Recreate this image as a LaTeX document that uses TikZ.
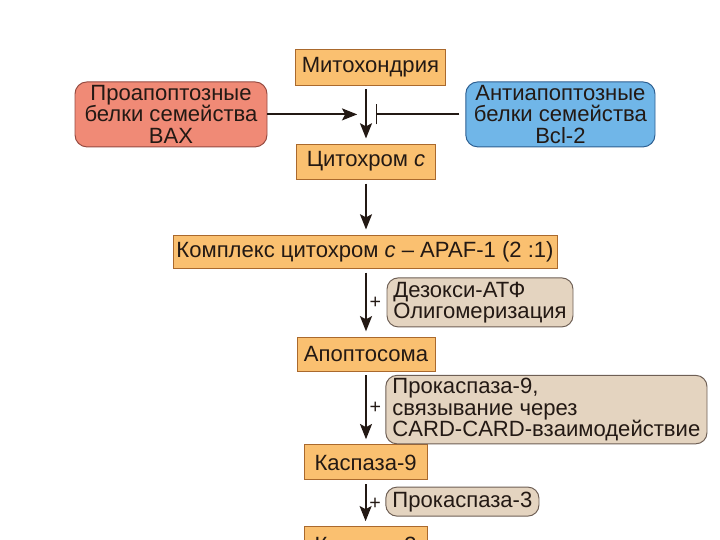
\documentclass[tikz,border=0pt]{standalone}
\usepackage{fontspec}
\setmainfont{Liberation Sans}
\usepackage{tikz}
\usetikzlibrary{positioning,arrows.meta}
\definecolor{orgfill}{RGB}{250,192,112}
\definecolor{orgline}{RGB}{170,105,45}
\definecolor{notefill}{RGB}{228,212,192}
\definecolor{noteline}{RGB}{110,95,85}
\definecolor{profill}{RGB}{240,138,118}
\definecolor{proline}{RGB}{150,75,65}
\definecolor{antifill}{RGB}{112,182,232}
\definecolor{antiline}{RGB}{45,95,145}
\definecolor{txtcol}{RGB}{35,25,20}

\begin{document}
\begin{tikzpicture}[
  box/.style={rectangle, draw=#1line, fill=#1fill, line width=0.7pt,
              font=\fontsize{15.7}{15.3}\selectfont, text=txtcol, inner sep=2pt,
              align=center},
  side/.style={box=#1, rounded corners=0.3cm, minimum height=1.625cm},
  note/.style={box=note, rounded corners=0.28cm, align=left},
  ar/.style={-{Stealth[length=0.38cm, width=0.3cm, inset=0.08cm]}, line width=1.3pt,
             draw=txtcol, shorten <=0.1cm, shorten >=0.13cm},
  pl/.style={font=\fontsize{14}{14}\selectfont, text=txtcol, inner sep=1pt, right=1pt}
]
\useasboundingbox (0,0) rectangle (18,-13.5);
\clip (0,0) rectangle (18,-13.5);

% main chain
\node[box=org, minimum width=3.73cm, minimum height=0.9cm]   (mit) at (9.26,-1.675) {Митохондрия};
\node[box=org, minimum width=3.48cm, minimum height=0.875cm] (cyt) at (9.15,-4.04)  {Цитохром \textit{c}};
\node[box=org, minimum width=9.6cm,  minimum height=0.825cm, inner xsep=1pt] (cpx) at (9.125,-6.29) {Комплекс цитохром \textit{c} – APAF-1 (2 :1)};
\node[box=org, minimum width=3.45cm, minimum height=0.85cm]  (apo) at (9.15,-8.85)  {Апоптосома};
\node[box=org, minimum width=3.08cm, minimum height=0.875cm] (c9)  at (9.14,-11.56) {Каспаза-9};
\node[box=org, minimum width=3.08cm, minimum height=0.875cm] (c3)  at (9.14,-13.61) {Каспаза-3};

% regulators
\node[side=pro,  minimum width=4.8cm]  (bax) at (4.275,-2.86) {Проапоптозные\\белки семейства\\BAX};
\node[side=anti, minimum width=4.73cm] (bcl) at (14.01,-2.86) {Антиапоптозные\\белки семейства\\Bcl-2};
\coordinate (jn) at (9.15,-2.86);

% cofactors
\node[note, minimum width=4.65cm, minimum height=1.225cm] (dat) at (12.0,-7.56)  {Дезокси-АТФ\\Олигомеризация};
\node[note, minimum width=8.03cm, minimum height=1.625cm] (pc9) at (13.66,-10.24) {Прокаспаза-9,\\связывание через\\CARD-CARD-взаимодействие};
\node[note, minimum width=3.83cm, minimum height=0.725cm] (pc3) at (11.56,-12.54) {Прокаспаза-3};

\draw[ar] (mit.south -| cyt.north) -- (cyt.north);
\draw[ar] (cyt.south) -- (cyt.south |- cpx.north);
\draw[ar] (cpx.south -| apo.north) -- node[pl] {+} (apo.north);
\draw[ar] (apo.south) -- node[pl] {+} (c9.north -| apo.south);
\draw[ar] (c9.south) -- node[pl] {+} (c3.north);

\draw[ar, shorten <=0pt, shorten >=0.22cm] (bax.east) -- (jn);
\draw[ar, -{Bar[width=0.5cm]}, shorten <=0.15cm, shorten >=0.24cm] (bcl.west) -- (jn);
\end{tikzpicture}
\end{document}
